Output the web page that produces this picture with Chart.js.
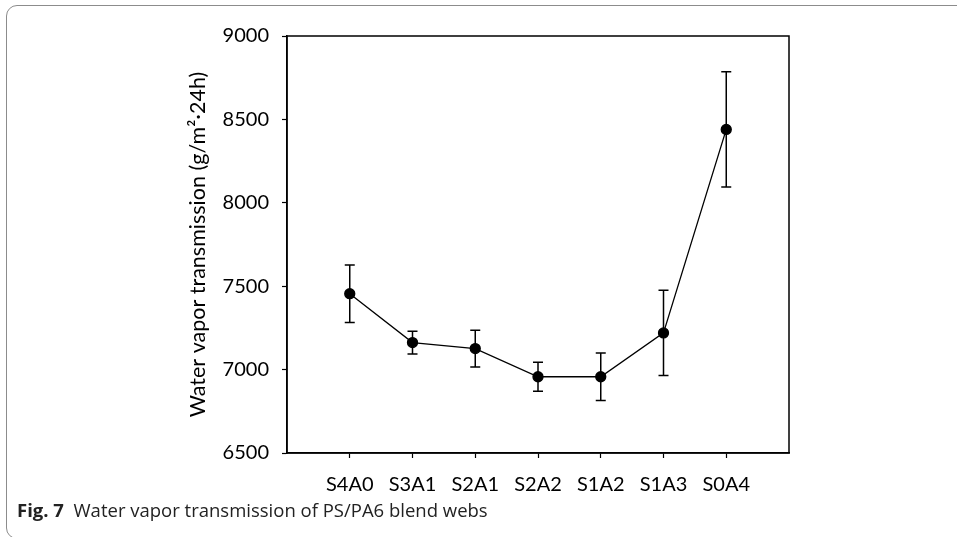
<!DOCTYPE html>
<html>
<head>
<meta charset="utf-8">
<script src="https://cdn.jsdelivr.net/npm/chart.js@4/dist/chart.umd.min.js"></script>
<style>
  html, body { margin:0; padding:0; background:#fff; width:957px; height:537px; overflow:hidden; }
  #frame { position:absolute; left:6px; top:5px; width:1000px; height:534px; border:1.5px solid #8c8c8c; border-radius:11px; box-sizing:border-box; }
  #wrap { position:absolute; left:0; top:0; width:957px; height:537px; }
  #caption { position:absolute; left:17px; top:498px; font-family:"Open Sans", sans-serif; font-size:18.5px; line-height:24px; color:#222; white-space:nowrap; }
  #caption b { font-weight:700; }
</style>
</head>
<body>
<div id="frame"></div>
<div id="wrap"><canvas id="c" width="957" height="537"></canvas></div>
<div id="caption"><b>Fig. 7</b>&nbsp; Water vapor transmission of PS/PA6 blend webs</div>
<script>
const categories = ["S4A0", "S3A1", "S2A1", "S2A2", "S1A2", "S1A3", "S0A4"];
const meanValues = [7455, 7162, 7126, 6957, 6957, 7220, 8440];
const errorValues = [172, 68, 110, 87, 143, 255, 345];
const yTicks = [6500, 7000, 7500, 8000, 8500, 9000];
const yTitle = "Water vapor transmission (g/m\u00B2\u00B724h)";

const boxPlugin = {
  id: 'box',
  afterDraw(chart) {
    const a = chart.chartArea, ctx = chart.ctx;
    ctx.save();
    ctx.strokeStyle = '#000';
    ctx.lineWidth = 1.5;
    ctx.strokeRect(a.left, a.top, a.right - a.left, a.bottom - a.top);
    ctx.restore();
  }
};

const errorBarPlugin = {
  id: 'errorBars',
  afterDatasetsDraw(chart) {
    const ctx = chart.ctx, xs = chart.scales.x, ys = chart.scales.y;
    ctx.save();
    ctx.strokeStyle = '#000';
    ctx.lineWidth = 1.5;
    const cap = 5;
    meanValues.forEach((m, i) => {
      const px = xs.getPixelForValue(i + 1);
      const top = ys.getPixelForValue(m + errorValues[i]);
      const bot = ys.getPixelForValue(m - errorValues[i]);
      ctx.beginPath();
      ctx.moveTo(px, top); ctx.lineTo(px, bot);
      ctx.moveTo(px - cap, top); ctx.lineTo(px + cap, top);
      ctx.moveTo(px - cap, bot); ctx.lineTo(px + cap, bot);
      ctx.stroke();
    });
    ctx.restore();
  }
};

const tickFont = { family: "Lato, 'Open Sans', sans-serif", size: 20 };

new Chart(document.getElementById('c'), {
  type: 'line',
  data: {
    datasets: [{
      data: meanValues.map((v, i) => ({ x: i + 1, y: v })),
      borderColor: '#000',
      borderWidth: 1.3,
      backgroundColor: '#000',
      pointBackgroundColor: '#000',
      pointBorderColor: '#000',
      pointRadius: 5,
      tension: 0
    }]
  },
  options: {
    responsive: false,
    animation: false,
    devicePixelRatio: 1,
    layout: { padding: { left: 185, top: 36, right: 168, bottom: 0 } },
    plugins: { legend: { display: false }, tooltip: { enabled: false } },
    scales: {
      x: {
        type: 'linear',
        min: 0, max: 8,
        afterBuildTicks(scale) { scale.ticks = categories.map((c, i) => ({ value: i + 1 })); },
        afterFit(scale) { scale.height = 84; },
        ticks: {
          autoSkip: false,
          maxRotation: 0,
          color: '#000',
          font: tickFont,
          padding: 15,
          callback: (v) => categories[v - 1] || ''
        },
        grid: { drawOnChartArea: false, tickLength: 5, color: '#000', tickWidth: 1.2 },
        border: { display: true, color: '#000', width: 1.5 }
      },
      y: {
        min: 6500, max: 9000,
        afterBuildTicks(scale) { scale.ticks = yTicks.map(v => ({ value: v })); },
        afterFit(scale) { scale.width = 102; },
        ticks: { color: '#000', font: tickFont, padding: 13, callback: (v) => String(v) },
        grid: { drawOnChartArea: false, tickLength: 5, color: '#000', tickWidth: 1.2 },
        border: { display: true, color: '#000', width: 1.5 },
        title: { display: true, text: yTitle, color: '#000', font: { family: "Lato, 'Open Sans', sans-serif", size: 21.5 }, padding: 0 }
      }
    }
  },
  plugins: [boxPlugin, errorBarPlugin]
});
</script>
</body>
</html>
